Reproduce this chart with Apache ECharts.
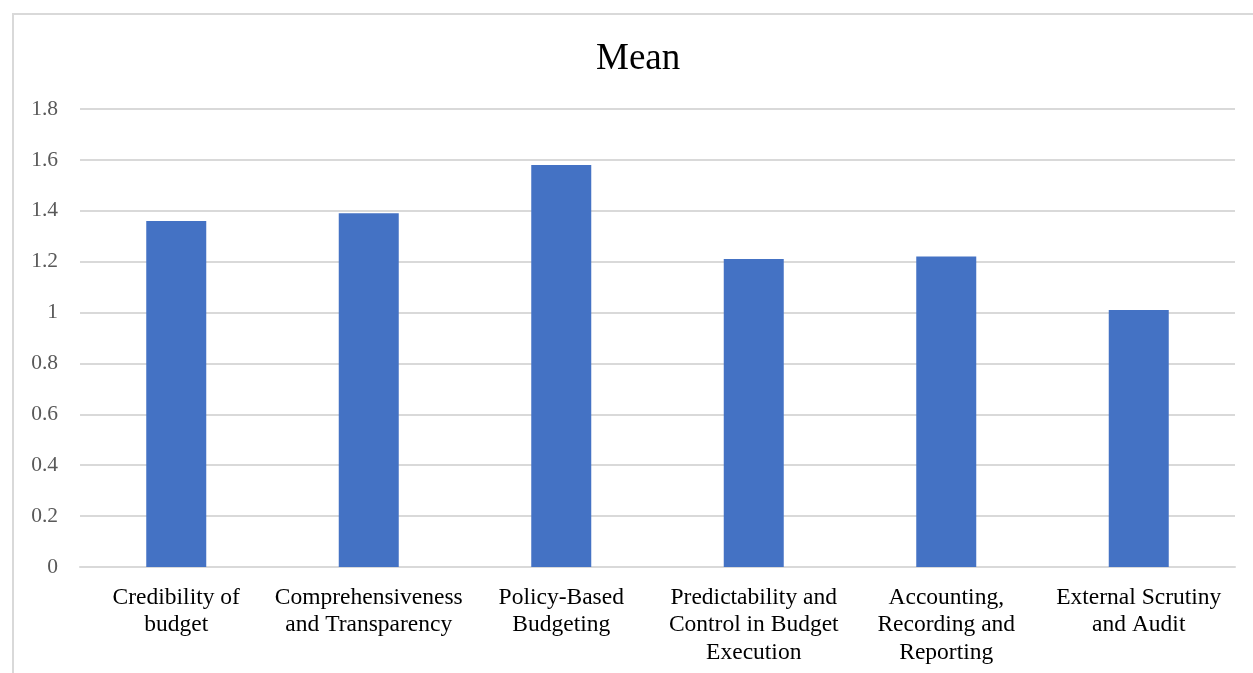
<!DOCTYPE html>
<html>
<head>
<meta charset="utf-8">
<script src="https://cdn.jsdelivr.net/npm/echarts@6/dist/echarts.min.js"></script>
<style>
  html, body { margin: 0; padding: 0; background: #ffffff; }
  #frame { position: absolute; left: 12px; top: 13px; width: 1300px; height: 700px;
           border: 2px solid #d9d9d9; box-sizing: border-box; }
  #chart { position: absolute; left: 0; top: 0; width: 1253px; height: 673px; }
</style>
</head>
<body>
<div id="frame"></div>
<div id="chart"></div>
<script>
// Mean score per assessment dimension
const categories = [
  'Credibility of\nbudget',
  'Comprehensiveness\nand Transparency',
  'Policy-Based\nBudgeting',
  'Predictability and\nControl in Budget\nExecution',
  'Accounting,\nRecording and\nReporting',
  'External Scrutiny\nand Audit'
];
const meanValues = [1.36, 1.39, 1.58, 1.21, 1.22, 1.01];
const yTicks = { min: 0, max: 1.8, interval: 0.2 };

const chart = echarts.init(document.getElementById('chart'), null, { renderer: 'canvas' });
chart.setOption({
  backgroundColor: 'transparent',
  animation: false,
  title: {
    text: 'Mean',
    left: 591,
    top: 36,
    textStyle: { fontFamily: 'Liberation Serif', fontSize: 37, fontWeight: 'normal', color: '#000000' }
  },
  grid: { left: 80, right: 18, top: 109, bottom: 106 },
  xAxis: {
    type: 'category',
    data: categories,
    axisLine: { show: true, lineStyle: { color: '#d9d9d9', width: 2 } },
    axisTick: { show: false },
    axisLabel: {
      fontFamily: 'Liberation Serif', fontSize: 23.5, color: '#000000',
      lineHeight: 27.5, margin: 17, interval: 0
    }
  },
  yAxis: {
    type: 'value',
    min: yTicks.min, max: yTicks.max, interval: yTicks.interval,
    axisLine: { show: false },
    axisTick: { show: false },
    splitLine: { lineStyle: { color: '#d9d9d9', width: 2 } },
    axisLabel: {
      fontFamily: 'Liberation Serif', fontSize: 21.5, color: '#595959', margin: 22,
      formatter: v => String(Math.round(v * 10) / 10)
    }
  },
  series: [{
    type: 'bar',
    data: meanValues,
    barWidth: 60,
    itemStyle: { color: '#4472c4' }
  }]
});
</script>
</body>
</html>
